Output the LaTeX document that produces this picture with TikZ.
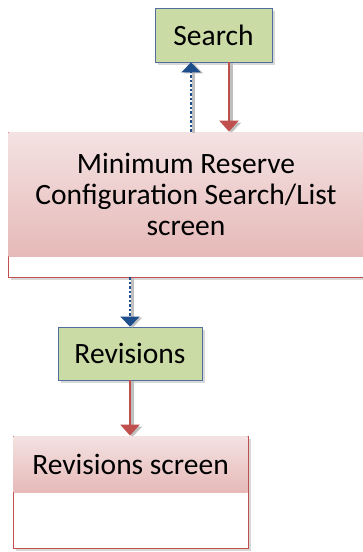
\documentclass[tikz,border=0pt]{standalone}
\usepackage{fontspec}
\setmainfont{Carlito}
\usetikzlibrary{arrows.meta,positioning,shadows}
\definecolor{leaf}{HTML}{CADBA6}
\definecolor{slate}{HTML}{4F6E9C}
\definecolor{rose}{HTML}{C0504D}
\definecolor{blush}{HTML}{F4E2E2}
\definecolor{blushdark}{HTML}{E6B9B8}
\definecolor{ink}{HTML}{1F4E8C}

\begin{document}
\begin{tikzpicture}[x=1pt,y=-1pt,
        action/.style={rectangle,fill=leaf,draw=slate,line width=0.8pt,
                    font=\fontsize{29.5}{31}\selectfont,inner sep=0pt,
                    drop shadow={shadow xshift=3pt,shadow yshift=-3pt,fill=black!30}},
        screen/.style={rectangle,fill=white,draw=rose,line width=0.8pt,inner sep=0pt,
                    drop shadow={shadow xshift=3pt,shadow yshift=-3pt,fill=black!30}},
        head/.style={rectangle,top color=blush,bottom color=blushdark,inner sep=0pt,
                    align=center,font=\fontsize{29.5}{31}\selectfont},
        go/.style={-{Triangle[width=19pt,length=11pt]},rose,line width=2.4pt},
        back/.style={-{Triangle[width=19pt,length=10pt]},ink,line width=2.6pt,
                    dash pattern=on 2.5pt off 2pt},
        ghost/.style={draw=black!25,line width=2.6pt,-{Triangle[width=19pt,length=10pt]}}]
        \useasboundingbox (0,0) rectangle (362,552);
        % actions
        \node[action,minimum width=117pt,minimum height=54pt] (search) at (213.5,35) {Search};
        \node[action,minimum width=144pt,minimum height=53pt] (revisions) at (130,353.5) {Revisions};
        % screens
        \node[screen,minimum width=356pt,minimum height=145pt] (list) at (186,204.5) {};
        \node[head,minimum width=355pt,minimum height=124.5pt,anchor=north]
            (listhead) at ([yshift=-0.4pt]list.north)
            {Minimum Reserve\\Configuration Search/List\\screen};
        \node[screen,minimum width=235pt,minimum height=112pt] (revscreen) at (130.5,492) {};
        \node[head,minimum width=234pt,minimum height=56.5pt,anchor=north]
            (revhead) at ([yshift=-0.4pt]revscreen.north) {Revisions screen};
        % shadows of the flow
        \begin{scope}[transform canvas={xshift=2.5pt,yshift=-1pt}]
        \draw[ghost] ([xshift=-22.5pt]search.south |- list.north) -- ([xshift=-22.5pt]search.south);
        \draw[ghost] ([xshift=15.5pt]search.south) -- ([xshift=15.5pt]search.south |- list.north);
        \draw[ghost] (revisions.north |- list.south) -- (revisions.north);
        \draw[ghost] (revisions.south) -- (revisions.south |- revscreen.north);
        \end{scope}
        % flow
        \draw[back] ([xshift=-22.5pt]search.south |- list.north) -- ([xshift=-22.5pt]search.south);
        \draw[go] ([xshift=15.5pt]search.south) -- ([xshift=15.5pt]search.south |- list.north);
        \draw[back] (revisions.north |- list.south) -- (revisions.north);
        \draw[go] (revisions.south) -- (revisions.south |- revscreen.north);
\end{tikzpicture}
\end{document}
